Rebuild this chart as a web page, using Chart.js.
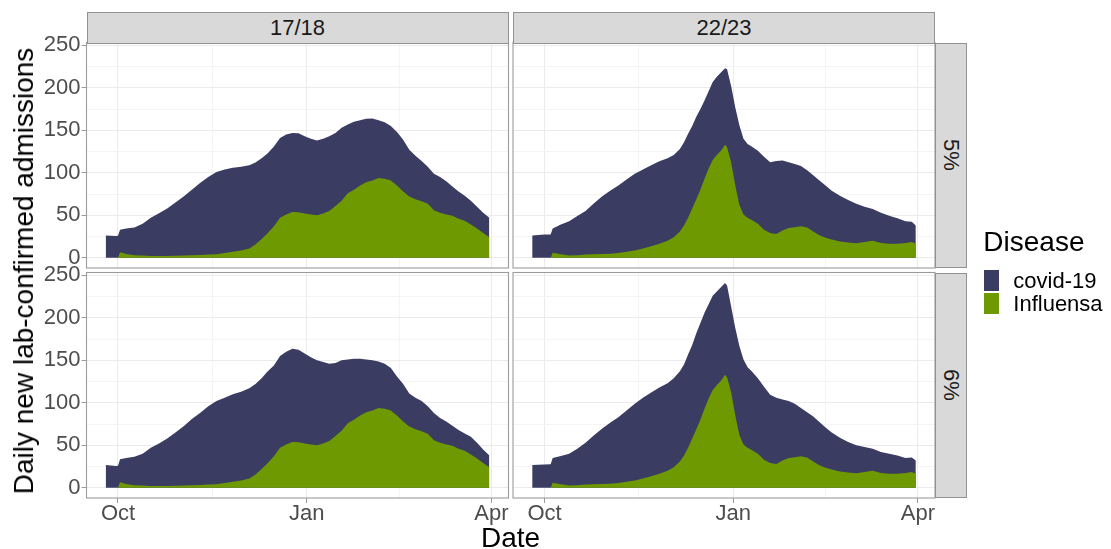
<!DOCTYPE html>
<html>
<head>
<meta charset="utf-8">
<title>Daily new lab-confirmed admissions</title>
<script src="https://cdn.jsdelivr.net/npm/chart.js@4.4.1/dist/chart.umd.min.js"></script>
<style>
  html, body { margin: 0; padding: 0; background: #ffffff; }
  #wrap { position: relative; width: 1111px; height: 549px; overflow: hidden;
          font-family: "Liberation Sans", Arial, Helvetica, sans-serif; }
  #wrap canvas { position: absolute; left: 0; top: 0; }
  .strip { position: absolute; box-sizing: border-box; background: #D9D9D9;
           border: 1px solid #929292; color: #1A1A1A; font-size: 22px;
           display: flex; align-items: center; justify-content: center; }
  .strip.side span { writing-mode: vertical-rl; }
  #ytitle { position: absolute; left: 23.6px; top: 270.5px; font-size: 28px; line-height: 28px;
            white-space: nowrap; color: #000; transform: translate(-50%, -50%) rotate(-90deg); }
  #xtitle { position: absolute; left: 510.6px; top: 524.3px; font-size: 28px; line-height: 28px;
            white-space: nowrap; color: #000; transform: translateX(-50%); }
  #legtitle { position: absolute; left: 983.3px; top: 228px; font-size: 28px; line-height: 28px; color: #000; }
  .key { position: absolute; width: 15px; height: 21px; }
  .keylab { position: absolute; font-size: 22px; line-height: 21px; color: #000; white-space: nowrap; }
</style>
</head>
<body>
<div id="wrap">
  <canvas id="p1" width="1111" height="549"></canvas>
  <canvas id="p2" width="1111" height="549"></canvas>
  <canvas id="p3" width="1111" height="549"></canvas>
  <canvas id="p4" width="1111" height="549"></canvas>
</div>
<script>
// ---- labels ----
const seasons = ['17/18', '22/23'];
const rowLabels = ['5%', '6%'];
const seriesNames = ['covid-19', 'Influensa'];
const xTitle = 'Date';
const yTitle = 'Daily new lab-confirmed admissions';
const legendTitle = 'Disease';

// x axis: days counted from 1 October; breaks at Oct / Jan / Apr with minor breaks between
const xTickValues = [0, 46, 92, 137, 182];
const xTickLabels = ['Oct', '', 'Jan', '', 'Apr'];
const xMajor = [0, 92, 182];
const yTickValues = [0, 25, 50, 75, 100, 125, 150, 175, 200, 225, 250];

// ---- season 17/18 ----
const days1718 = [-6, -1, 0, 1, 4, 8, 12, 16, 20, 24, 28, 32, 36, 40, 44, 48, 52, 56, 60, 64,
  67, 70, 73, 76, 79, 82, 85, 88, 91, 94, 97, 100, 103, 106, 109, 112, 115, 118, 121, 124,
  127, 130, 133, 136, 139, 142, 145, 148, 151, 154, 157, 160, 163, 166, 169, 172, 175, 178, 181];
const flu1718 = [0, 0, 0, 6.5, 4.5, 3, 2.5, 2.2, 2, 2, 2.3, 2.5, 3, 3.3, 3.8, 4.2, 5.5, 7, 8.5, 11,
  15.5, 22, 29, 37, 47, 51, 54, 53.5, 52, 51, 50, 52, 55, 61, 67, 76, 80, 85, 89, 91,
  94, 93, 91, 85, 78, 72, 69, 66.5, 63.5, 56, 53, 51, 49.5, 46, 43.5, 39, 34.5, 29, 24];
const covid1718_5 = [26.3, 25.5, 26, 26.5, 30, 32.5, 37.5, 44.8, 50.5, 56, 62.7, 69.5, 77, 84.7, 91.2, 96.8, 98.5, 99, 98.5, 98,
  96.5, 95, 94, 94, 94, 94, 93, 93, 91, 89, 88, 88, 88, 86, 86, 81, 80, 77, 74.5, 73,
  68, 66.5, 64, 63, 61, 55, 51, 47.5, 43.5, 43, 42, 39, 34.5, 32, 29.5, 28, 25.5, 24, 23];
const covid1718_6 = [26.7, 25.5, 26, 27, 30.5, 33.5, 37.5, 44.8, 50, 56, 62.7, 70, 78, 84.7, 92.2, 97.8, 100.5, 103, 104.5, 106,
  106.5, 107, 108, 107, 108, 109, 109.5, 109, 106, 102.5, 100, 96, 91, 86, 83, 75, 72, 67, 62, 59,
  54.5, 53, 50, 46, 44, 39, 37, 35.5, 32.5, 32, 29, 27, 23.5, 22, 20.5, 21, 18.5, 16, 14];

// ---- season 22/23 ----
const days2223 = [-6, 0, 3, 4, 8, 12, 16, 20, 24, 28, 32, 36, 40, 44, 48, 52, 56, 60, 63, 66,
  68, 70, 72, 74, 76, 78, 80, 82, 84, 86, 88, 89, 91, 93, 95, 97, 99, 101,
  104, 107, 110, 113, 116, 119, 122, 125, 128, 131, 134, 137, 140,
  144, 148, 152, 156, 160, 164, 168, 172, 176, 179, 181];
const flu2223 = [0, 0, 0, 6, 4, 2.7, 3, 3.8, 4.2, 4.5, 4.8, 5.5, 7, 8.6, 11, 13.5, 16.5, 20, 24, 31,
  38, 47, 58, 69, 80, 93, 105, 115, 121, 126, 133, 130, 112, 85, 62, 51, 47, 44.5,
  40, 33, 29, 28, 32, 35, 36, 37, 35.5, 31, 26.5, 23.5, 21.5,
  19, 18, 17, 18.5, 20, 17.5, 16.5, 16.5, 17.5, 18.5, 16.5];
const covid2223_5 = [26.3, 27.3, 27.5, 28.5, 35, 40.3, 46, 51.2, 59.8, 67.5, 74.2, 79.5, 85, 90.4, 93, 95.5, 97, 97, 97, 97,
  98, 99, 97, 97, 95, 92, 91, 92, 92, 92, 90, 92, 90, 92, 94, 89, 87, 86.5,
  86, 86, 83.5, 86, 82.5, 77.5, 74.5, 71, 67.5, 66, 64.5, 61.5, 57.5,
  54, 50, 46.5, 41.5, 37.5, 35.5, 33, 30, 25.5, 24, 21.5];
const covid2223_6 = [26.7, 27.3, 27.8, 29, 33.5, 37.3, 43, 49.2, 57.3, 65, 71.7, 77.5, 84, 90.4, 95, 98.5, 101.5, 103, 105, 106,
  107, 110, 110, 113, 114, 113, 111, 111, 110, 110, 108, 108, 101, 103, 105, 100, 95, 92.5,
  89, 86, 80.5, 78, 72, 67, 63, 57, 53.5, 53, 51, 47.5, 43.5,
  40, 36, 33, 29.5, 26, 24.5, 23.5, 21.5, 17.5, 17, 15.5];

// ---- styling ----
const COVID_COLOR = '#3A3C62';
const FLU_COLOR = '#6F9900';
const W = 1111, H = 549;
const X_MIN = -15.35, X_MAX = 190.35;
const Y_MIN = -12.07, Y_MAX = 253.4;

Chart.defaults.font.family = '"Liberation Sans", Arial, Helvetica, sans-serif';

// panel outline drawn over the areas
const panelBorder = {
  id: 'panelBorder',
  afterDraw(chart) {
    const { ctx, chartArea: a } = chart;
    ctx.save();
    ctx.strokeStyle = '#9C9C9C';
    ctx.lineWidth = 1.1;
    ctx.strokeRect(a.left, a.top, a.right - a.left, a.bottom - a.top);
    ctx.restore();
  }
};

const panels = [
  { id: 'p1', days: days1718, flu: flu1718, covid: covid1718_5, box: { l: 86.5, t: 42.5, r: 508.5, b: 268 }, showX: false, showY: true },
  { id: 'p2', days: days2223, flu: flu2223, covid: covid2223_5, box: { l: 513, t: 42.5, r: 935, b: 268 }, showX: false, showY: false },
  { id: 'p3', days: days1718, flu: flu1718, covid: covid1718_6, box: { l: 86.5, t: 272.5, r: 508.5, b: 498 }, showX: true, showY: true },
  { id: 'p4', days: days2223, flu: flu2223, covid: covid2223_6, box: { l: 513, t: 272.5, r: 935, b: 498 }, showX: true, showY: false }
];

function buildPanel(p) {
  const toPoints = (vals) => p.days.map((d, i) => ({ x: d, y: vals[i] }));
  new Chart(document.getElementById(p.id), {
    type: 'line',
    data: {
      datasets: [
        { label: seriesNames[1], data: toPoints(p.flu), backgroundColor: FLU_COLOR,
          borderColor: 'rgba(0,0,0,0)', borderWidth: 0, pointRadius: 0, tension: 0, fill: 'origin' },
        { label: seriesNames[0], data: toPoints(p.covid), backgroundColor: COVID_COLOR,
          borderColor: 'rgba(0,0,0,0)', borderWidth: 0, pointRadius: 0, tension: 0, fill: 'origin' }
      ]
    },
    options: {
      responsive: false,
      animation: false,
      events: [],
      layout: { padding: {
        left: p.showY ? 0 : p.box.l,
        top: p.box.t,
        right: W - p.box.r,
        bottom: p.showX ? 0 : H - p.box.b
      } },
      plugins: { legend: { display: false }, tooltip: { enabled: false } },
      scales: {
        x: {
          type: 'linear', min: X_MIN, max: X_MAX,
          afterBuildTicks: (s) => { s.ticks = xTickValues.map(v => ({ value: v })); },
          afterFit: (s) => { s.height = p.showX ? H - p.box.b : 0; },
          border: { display: false },
          grid: {
            color: (c) => xMajor.includes(c.tick.value) ? '#EBEBEB' : '#F4F4F4',
            lineWidth: 1,
            drawTicks: p.showX, tickLength: 5,
            tickColor: (c) => xMajor.includes(c.tick.value) ? '#9A9A9A' : 'rgba(0,0,0,0)'
          },
          ticks: {
            display: p.showX, autoSkip: false, maxRotation: 0, padding: -2,
            color: '#4D4D4D', font: { size: 22 },
            callback: (v) => xTickLabels[xTickValues.indexOf(v)]
          }
        },
        y: {
          type: 'linear', stacked: true, min: Y_MIN, max: Y_MAX,
          afterBuildTicks: (s) => { s.ticks = yTickValues.map(v => ({ value: v })); },
          afterFit: (s) => { s.width = p.showY ? p.box.l : 0; },
          border: { display: false },
          grid: {
            color: (c) => c.tick.value % 50 === 0 ? '#EBEBEB' : '#F4F4F4',
            lineWidth: 1,
            drawTicks: p.showY, tickLength: 5,
            tickColor: (c) => c.tick.value % 50 === 0 ? '#9A9A9A' : 'rgba(0,0,0,0)'
          },
          ticks: {
            display: p.showY, autoSkip: false, padding: 1,
            color: '#4D4D4D', font: { size: 22 },
            callback: (v) => (v % 50 === 0 ? String(v) : '')
          }
        }
      }
    },
    plugins: [panelBorder]
  });
}
panels.forEach(buildPanel);

// ---- facet strips, axis titles and legend ----
const wrap = document.getElementById('wrap');
function addDiv(cls, text, style) {
  const d = document.createElement('div');
  if (cls) d.className = cls;
  if (text !== null) d.textContent = text;
  Object.assign(d.style, style);
  wrap.appendChild(d);
  return d;
}
const colLeft = [86.5, 513];
seasons.forEach((s, i) => addDiv('strip', s, { left: colLeft[i] + 'px', top: '12px', width: '422px', height: '31.5px' }));
const rowTop = [42.5, 272.5];
rowLabels.forEach((r, i) => {
  const d = addDiv('strip side', null, { left: '935px', top: rowTop[i] + 'px', width: '31.5px', height: '225.5px' });
  const sp = document.createElement('span');
  sp.textContent = r;
  d.appendChild(sp);
});
addDiv(null, yTitle, {}).id = 'ytitle';
addDiv(null, xTitle, {}).id = 'xtitle';
addDiv(null, legendTitle, {}).id = 'legtitle';
const keyColors = [COVID_COLOR, FLU_COLOR];
const keyTops = [270, 292.5];
seriesNames.forEach((n, i) => {
  addDiv('key', null, { left: '983.5px', top: keyTops[i] + 'px', background: keyColors[i] });
  addDiv('keylab', n, { left: '1013.3px', top: keyTops[i] + 'px' });
});
</script>
</body>
</html>
